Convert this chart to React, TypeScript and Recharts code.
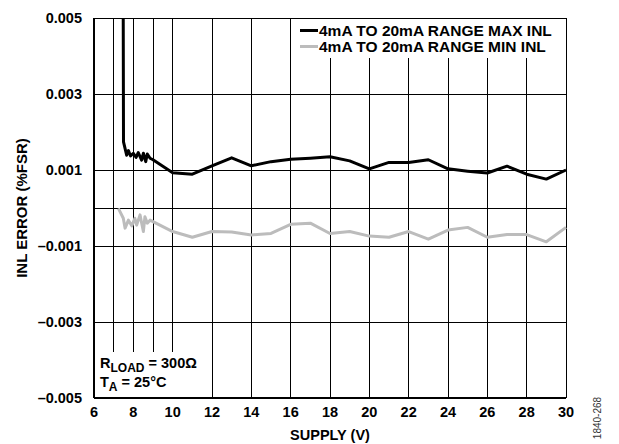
import React from "react";
import { LineChart, Line, XAxis, YAxis, CartesianGrid } from "recharts";

// supply voltage (V) / INL error (%FSR)
const maxSupply = [
  7.48, 7.5, 7.66, 7.75, 7.86, 8.0, 8.14, 8.25, 8.42, 8.51, 8.63, 8.71, 8.85, 9,
  10, 11, 12, 13, 14, 15, 16, 17, 18, 19, 20, 21, 22, 23, 24, 25, 26, 27, 28, 29, 30,
];
const maxInl = [
  0.0065, 0.00174, 0.00139, 0.00151, 0.00137, 0.00144, 0.00133, 0.00146, 0.00126,
  0.00144, 0.00122, 0.00142, 0.00131, 0.00127,
  0.00093, 0.00089, 0.00111, 0.00132, 0.00111, 0.00122, 0.00128, 0.00131, 0.00135,
  0.00124, 0.00103, 0.0012, 0.0012, 0.00127, 0.00103, 0.00097, 0.00092, 0.0011,
  0.00089, 0.00076, 0.001,
];
const minSupply = [
  7.24, 7.49, 7.58, 7.75, 7.92, 8.08, 8.17, 8.34, 8.51, 8.59, 8.71, 8.85, 9,
  10, 11, 12, 13, 14, 15, 16, 17, 18, 19, 20, 21, 22, 23, 24, 25, 26, 27, 28, 29, 30,
];
const minInl = [
  -0.00001, -0.00027, -0.00053, -0.00032, -0.00047, -0.00027, -0.00045, -0.00018,
  -0.00062, -0.00023, -0.0004, -0.00032, -0.00036,
  -0.00062, -0.00077, -0.00062, -0.00063, -0.00071, -0.00067, -0.00043, -0.0004,
  -0.00067, -0.00062, -0.00074, -0.00077, -0.00062, -0.00082, -0.00058, -0.00051,
  -0.00077, -0.0007, -0.0007, -0.00089, -0.00051,
];

const seriesNames = ["4mA TO 20mA RANGE MAX INL", "4mA TO 20mA RANGE MIN INL"];
const seriesColors = ["#000000", "#bcbcbc"];

const xTicks = [6, 8, 10, 12, 14, 16, 18, 20, 22, 24, 26, 28, 30];
const yTicks = [-0.005, -0.003, -0.001, 0.001, 0.003, 0.005];
const xGrid = [7, 8, 9, 10, 11, 12, 13, 14, 15, 16, 17, 18, 19, 20, 21, 22, 23, 24, 25, 26, 27, 28, 29, 30];
const yGrid = [-0.003, -0.001, 0, 0.001, 0.003, 0.005];

const maxData = maxSupply.map((s, i) => ({ supply: s, inl: maxInl[i] }));
const minData = minSupply.map((s, i) => ({ supply: s, inl: minInl[i] }));

const FONT = "Arial, 'Liberation Sans', Helvetica, sans-serif";

const fmtY = (v: number) => (v < 0 ? `\u2013${(-v).toFixed(3)}` : v.toFixed(3));

const YTitle = (props: any) => {
  const vb = props.viewBox || { x: 0, y: 18, width: 94, height: 380 };
  const cx = 21;
  const cy = vb.y + vb.height / 2;
  return (
    <text
      x={cx}
      y={cy}
      transform={`rotate(-90 ${cx} ${cy})`}
      textAnchor="middle"
      dominantBaseline="central"
      fontFamily={FONT}
      fontWeight="bold"
      fontSize={15}
      fill="#000"
    >
      INL ERROR (%FSR)
    </text>
  );
};

const XTitle = (props: any) => {
  const vb = props.viewBox || { x: 94, y: 398, width: 472, height: 46 };
  return (
    <text
      x={vb.x + vb.width / 2}
      y={440}
      textAnchor="middle"
      fontFamily={FONT}
      fontWeight="bold"
      fontSize={14.5}
      fill="#000"
    >
      SUPPLY (V)
    </text>
  );
};

const subStyle = { fontSize: 12, verticalAlign: -4, lineHeight: 0 };

export default function App() {
  return (
    <div style={{ position: "absolute", left: 0, top: 0, width: 619, height: 444, background: "#fff" }}>
      <LineChart width={619} height={444} margin={{ top: 18, right: 53, left: 0, bottom: 0 }}>
        <CartesianGrid
          stroke="#000"
          strokeWidth={1}
          shapeRendering="crispEdges"
          verticalValues={xGrid}
          horizontalValues={yGrid}
        />
        <XAxis
          dataKey="supply"
          type="number"
          domain={[6, 30]}
          ticks={xTicks}
          height={46}
          tickSize={0}
          tickMargin={9}
          axisLine={{ stroke: "#000", strokeWidth: 2 }}
          tick={{ fill: "#000", fontFamily: FONT, fontWeight: "bold", fontSize: 14.5 }}
          label={{ content: XTitle }}
        />
        <YAxis
          type="number"
          domain={[-0.005, 0.005]}
          allowDataOverflow
          ticks={yTicks}
          width={94}
          tickSize={0}
          tickMargin={12}
          tickFormatter={fmtY}
          axisLine={{ stroke: "#000", strokeWidth: 2 }}
          tick={{ fill: "#000", fontFamily: FONT, fontWeight: "bold", fontSize: 14.5 }}
          label={{ content: YTitle }}
        />
        <Line
          data={maxData}
          dataKey="inl"
          name={seriesNames[0]}
          stroke={seriesColors[0]}
          strokeWidth={3}
          dot={false}
          strokeLinejoin="round"
          isAnimationActive={false}
        />
        <Line
          data={minData}
          dataKey="inl"
          name={seriesNames[1]}
          stroke={seriesColors[1]}
          strokeWidth={3}
          dot={false}
          strokeLinejoin="round"
          isAnimationActive={false}
        />
      </LineChart>

      {/* legend box, top right inside the plot */}
      <div
        style={{
          position: "absolute",
          left: 296,
          top: 19,
          width: 269,
          height: 39,
          background: "#fff",
          fontFamily: FONT,
          fontWeight: "bold",
          fontSize: 15.5,
          lineHeight: "15.5px",
          paddingTop: 4,
          boxSizing: "border-box",
        }}
      >
        {seriesNames.map((n, i) => (
          <div key={n} style={{ display: "flex", alignItems: "center", whiteSpace: "nowrap" }}>
            <span
              style={{
                display: "inline-block",
                width: 18,
                height: 3,
                background: seriesColors[i],
                marginLeft: 4,
                marginRight: 1,
              }}
            />
            <span>{n}</span>
          </div>
        ))}
      </div>

      {/* conditions box, bottom left inside the plot */}
      <div
        style={{
          position: "absolute",
          left: 95,
          top: 352,
          width: 116,
          height: 45,
          background: "#fff",
          fontFamily: FONT,
          fontWeight: "bold",
          fontSize: 14.5,
          lineHeight: "19px",
          paddingLeft: 5,
          paddingTop: 2,
          boxSizing: "border-box",
          whiteSpace: "nowrap",
        }}
      >
        <div>
          R<sub style={subStyle}>LOAD</sub> = 300Ω
        </div>
        <div>
          T<sub style={subStyle}>A</sub> = 25°C
        </div>
      </div>

      <div
        style={{
          position: "absolute",
          left: 597,
          top: 418,
          transform: "translate(-50%, -50%) rotate(-90deg)",
          fontFamily: FONT,
          fontSize: 10,
          color: "#333",
          whiteSpace: "nowrap",
        }}
      >
        1840-268
      </div>
    </div>
  );
}
